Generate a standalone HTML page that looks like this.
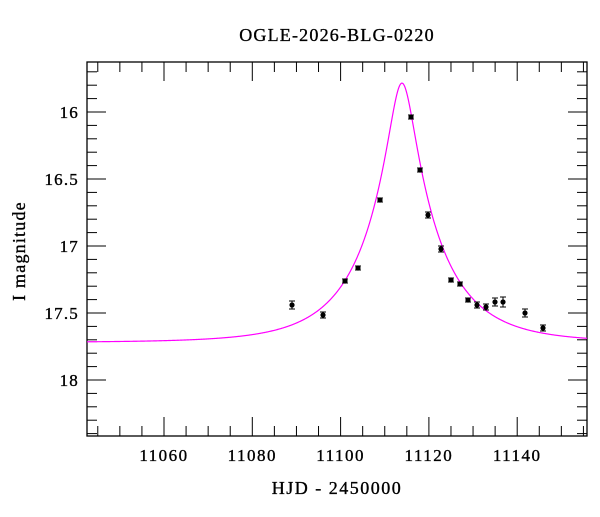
<!DOCTYPE html>
<html><head><meta charset="utf-8"><style>
html,body{margin:0;padding:0;background:#fff}
svg text{font-family:"Liberation Serif",serif;fill:#000;stroke:#000;stroke-width:0.35}
</style></head><body>
<svg id="s" width="600" height="512" xmlns="http://www.w3.org/2000/svg">
<text x="337" y="41" font-size="18" letter-spacing="1.2" text-anchor="middle">OGLE-2026-BLG-0220</text>
<text x="337" y="494" font-size="18" letter-spacing="1.5" text-anchor="middle">HJD - 2450000</text>
<text transform="translate(25,251) rotate(-90)" font-size="18" letter-spacing="1.2" text-anchor="middle">I magnitude</text>
<g id="g"></g>
</svg>
<script>
const ns="http://www.w3.org/2000/svg",g=document.getElementById('g');
const L=87,R=587,T=62,B=436;
const X=t=>164+(t-11060)*4.415, Y=m=>112+(m-16)*134;
function el(n,a){const e=document.createElementNS(ns,n);for(const k in a)e.setAttribute(k,a[k]);g.appendChild(e);return e;}
el('rect',{x:L,y:T,width:R-L,height:B-T,fill:'none',stroke:'#000','stroke-width':1.3});
for(let t=11045;t<=11155;t+=5){const x=X(t);const len=t%20==0?19:10;
 el('line',{x1:x,y1:B,x2:x,y2:B-len,stroke:'#000','stroke-width':1});
 el('line',{x1:x,y1:T,x2:x,y2:T+len,stroke:'#000','stroke-width':1});
 if(t%20==0){const tx=el('text',{x:x,y:461,'font-size':17,'letter-spacing':1.5,'text-anchor':'middle'});tx.textContent=t;}}
for(let i=0;i<=28;i++){const m=15.7+i*0.1;const y=Y(m);if(y<T||y>B)continue;
 const maj=Math.abs(m*2-Math.round(m*2))<1e-6;const len=maj?19:10;
 el('line',{x1:L,y1:y,x2:L+len,y2:y,stroke:'#000','stroke-width':1});
 el('line',{x1:R,y1:y,x2:R-len,y2:y,stroke:'#000','stroke-width':1});
 if(maj){const tx=el('text',{x:79,y:y+6,'font-size':17,'letter-spacing':1.2,'text-anchor':'end'});tx.textContent=(+m.toFixed(1)).toString();}}
const Ib=17.72,t0=11113.9,u0=0.17,tE=16.5;
let d='';for(let px=L;px<=R;px+=0.5){const t=11060+(px-164)/4.415;const u=Math.sqrt(u0*u0+((t-t0)/tE)**2);
 const A=(u*u+2)/(u*Math.sqrt(u*u+4));const m=Ib-2.5*Math.log10(A);d+=(d?'L':'M')+px+' '+Y(m).toFixed(2);}
el('path',{d:d,fill:'none',stroke:'#ff00ff','stroke-width':1.2});
const pts=[[292,305,4],[323,315,3],[345,281,2],[358,268,2],[380,200,2],[411,117,2],[420,170,2],[428,215,3],[441,249,3],[451,280,2],[460,284,2],[468,300,2],[477,305,3],[486,307,3],[495,302,4],[503,302,5],[525,313,4],[543,328,3]];
for(const [x,y,e] of pts){el('line',{x1:x,y1:y-e,x2:x,y2:y+e,stroke:'#000','stroke-width':1});
 el('line',{x1:x-3,y1:y-e,x2:x+3,y2:y-e,stroke:'#000','stroke-width':1});
 el('line',{x1:x-3,y1:y+e,x2:x+3,y2:y+e,stroke:'#000','stroke-width':1});
 el('circle',{cx:x,cy:y,r:2.6,fill:'#000'});}
</script>
</body></html>
